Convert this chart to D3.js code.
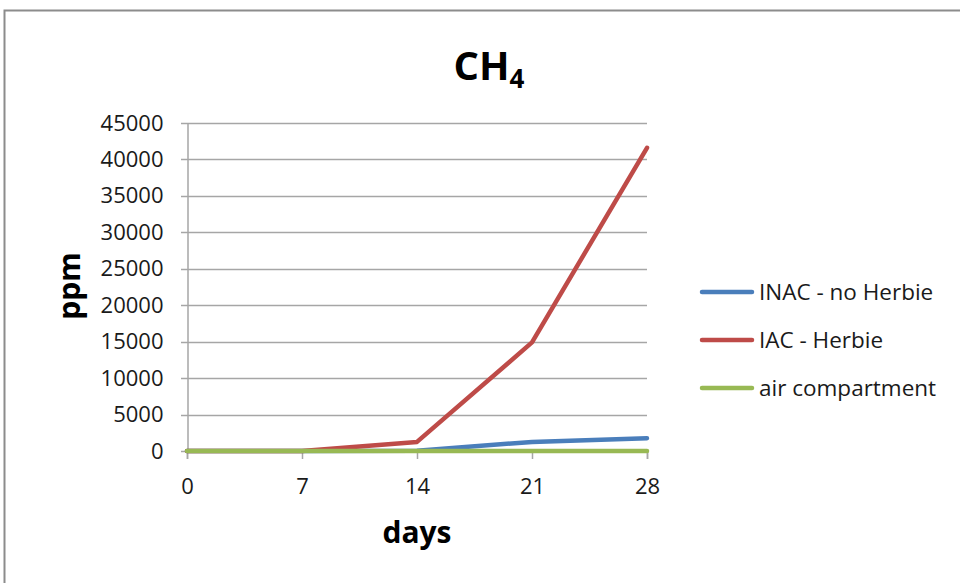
<!DOCTYPE html>
<html>
<head>
<meta charset="utf-8">
<script src="https://cdn.jsdelivr.net/npm/d3@7"></script>
<style>
  body { margin: 0; background: #fff; }
  text { font-family: "Open Sans", "Noto Sans", sans-serif; }
</style>
</head>
<body>
<div id="chart"></div>
<script>
// days sampled
var days = [0, 7, 14, 21, 28];
// CH4 in ppm
var inacNoHerbie = [0, 0, 30, 1250, 1750];
var iacHerbie = [0, 0, 1250, 14900, 41600];
var airCompartment = [0, 0, 0, 0, 0];
var seriesNames = ['INAC - no Herbie', 'IAC - Herbie', 'air compartment'];
var seriesColors = ['#4a7ebb', '#be4b48', '#98b954'];
var yTicks = [0, 5000, 10000, 15000, 20000, 25000, 30000, 35000, 40000, 45000];

var svg = d3.select('#chart')
  .append('svg')
    .attr('width', 960)
    .attr('height', 583);

// outer frame
svg.append('path')
  .attr('d', 'M4.5,583 L4.5,10.5 L960,10.5')
  .style('fill', 'none')
  .style('stroke', '#8c8c8c')
  .style('stroke-width', 2);

var x = d3.scaleLinear().domain([0, 28]).range([187, 647]);
var y = d3.scaleLinear().domain([0, 45000]).range([451, 123]);

// horizontal grid
svg.append('g')
  .selectAll('line')
  .data(yTicks)
  .enter().append('line')
    .attr('x1', 181)
    .attr('x2', 647)
    .attr('y1', function(d) { return Math.round(y(d)) + 0.5; })
    .attr('y2', function(d) { return Math.round(y(d)) + 0.5; })
    .style('stroke', '#a6a6a6')
    .style('stroke-width', 1.5);

// y axis
var yAxis = svg.append('g')
  .attr('transform', 'translate(187.5,0)')
  .call(d3.axisLeft(y).tickValues(yTicks).tickSize(0).tickPadding(24).tickFormat(d3.format('d')));
yAxis.select('.domain').style('stroke', '#a6a6a6').style('stroke-width', 1.5);
yAxis.selectAll('text')
  .style('font-size', '22px')
  .style('fill', '#1a1a1a');

// x axis
var xAxis = svg.append('g')
  .attr('transform', 'translate(0,451)')
  .call(d3.axisBottom(x).tickValues(days).tickSize(8).tickPadding(19).tickFormat(d3.format('d')));
xAxis.select('.domain').style('stroke', '#a6a6a6').style('stroke-width', 1.5);
xAxis.selectAll('line').style('stroke', '#a6a6a6').style('stroke-width', 1.5);
xAxis.selectAll('text')
  .style('font-size', '22px')
  .style('fill', '#1a1a1a');

// lines
var line = d3.line()
  .x(function(d, i) { return x(days[i]); })
  .y(function(d) { return y(d); });

var allSeries = [inacNoHerbie, iacHerbie, airCompartment];
svg.append('g')
  .selectAll('path')
  .data(allSeries)
  .enter().append('path')
    .attr('d', line)
    .style('fill', 'none')
    .style('stroke', function(d, i) { return seriesColors[i]; })
    .style('stroke-width', 4.5)
    .style('stroke-linejoin', 'round')
    .style('stroke-linecap', 'round');

// legend
var legend = svg.append('g')
  .selectAll('g')
  .data(seriesNames)
  .enter().append('g')
    .attr('transform', function(d, i) { return 'translate(700,' + (292 + i * 48) + ')'; });
legend.append('line')
  .attr('x1', 2).attr('x2', 52)
  .style('stroke', function(d, i) { return seriesColors[i]; })
  .style('stroke-width', 4.5)
  .style('stroke-linecap', 'round');
legend.append('text')
  .attr('x', 59)
  .attr('dy', '0.35em')
  .style('font-size', '22.5px')
  .style('fill', '#1a1a1a')
  .text(function(d) { return d; });

// title
var title = svg.append('text')
  .attr('x', 489)
  .attr('y', 80)
  .attr('text-anchor', 'middle')
  .style('font-size', '40px')
  .style('font-weight', 'bold')
  .text('CH');
title.append('tspan')
  .attr('dy', 8)
  .style('font-size', '26px')
  .text('4');

// axis titles
svg.append('text')
  .attr('transform', 'translate(80,286) rotate(-90)')
  .attr('text-anchor', 'middle')
  .style('font-size', '30px')
  .style('font-weight', 'bold')
  .text('ppm');

svg.append('text')
  .attr('x', 417)
  .attr('y', 543)
  .attr('text-anchor', 'middle')
  .style('font-size', '30px')
  .style('font-weight', 'bold')
  .text('days');
</script>
</body>
</html>
